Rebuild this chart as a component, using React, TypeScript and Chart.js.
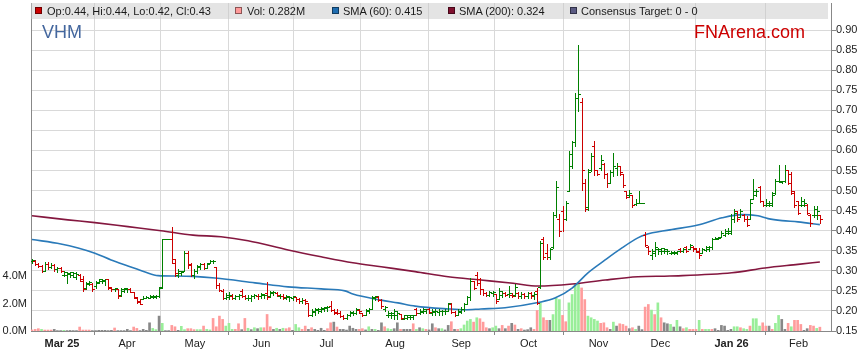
import React, { useEffect, useRef } from "react";
import { Chart, registerables } from "chart.js";

Chart.register(...registerables);

const FONT = "'Liberation Sans', Arial, Helvetica, sans-serif";

// ---- daily OHLC (VHM), one entry per trading day ----
const opens = [
  0.325, 0.325, 0.317, 0.312, 0.30, 0.318, 0.31, 0.314, 0.304, 0.306,
  0.29, 0.29, 0.292, 0.29, 0.285, 0.29, 0.275, 0.258, 0.268, 0.268,
  0.262, 0.27, 0.275, 0.275, 0.279, 0.258, 0.254, 0.254, 0.24, 0.25,
  0.254, 0.254, 0.248, 0.233, 0.224, 0.23, 0.233, 0.233, 0.234, 0.235,
  0.238, 0.26, 0.38, 0.38, 0.38, 0.32, 0.29, 0.295, 0.30, 0.345,
  0.318, 0.29, 0.30, 0.31, 0.318, 0.308, 0.32, 0.325, 0.31, 0.265,
  0.25, 0.233, 0.235, 0.238, 0.233, 0.236, 0.25, 0.238, 0.232, 0.232,
  0.236, 0.238, 0.236, 0.24, 0.245, 0.238, 0.245, 0.245, 0.238, 0.236,
  0.233, 0.235, 0.232, 0.235, 0.229, 0.225, 0.228, 0.22, 0.19, 0.198,
  0.203, 0.20, 0.205, 0.208, 0.212, 0.203, 0.198, 0.196, 0.188, 0.182,
  0.19, 0.195, 0.196, 0.203, 0.195, 0.19, 0.20, 0.205, 0.232, 0.235,
  0.228, 0.205, 0.19, 0.19, 0.19, 0.19, 0.192, 0.18, 0.182, 0.185,
  0.185, 0.205, 0.196, 0.198, 0.20, 0.206, 0.196, 0.198, 0.198, 0.199,
  0.20, 0.20, 0.218, 0.198, 0.19, 0.198, 0.205, 0.218, 0.235, 0.275,
  0.29, 0.28, 0.254, 0.245, 0.24, 0.245, 0.242, 0.23, 0.24, 0.245,
  0.242, 0.24, 0.24, 0.245, 0.238, 0.242, 0.236, 0.244, 0.24, 0.25,
  0.26, 0.38, 0.345, 0.335, 0.36, 0.44, 0.43, 0.45, 0.43, 0.50,
  0.56, 0.62, 0.73, 0.72, 0.52, 0.46, 0.55, 0.61, 0.55, 0.555,
  0.565, 0.54, 0.52, 0.545, 0.555, 0.56, 0.54, 0.498, 0.49, 0.49,
  0.467, 0.47, 0.47, 0.39, 0.36, 0.34, 0.345, 0.355, 0.35, 0.35,
  0.35, 0.345, 0.345, 0.345, 0.355, 0.35, 0.36, 0.355, 0.36, 0.356,
  0.35, 0.345, 0.352, 0.355, 0.36, 0.38, 0.38, 0.385, 0.39, 0.395,
  0.395, 0.43, 0.45, 0.435, 0.44, 0.43, 0.43, 0.48, 0.49, 0.51,
  0.475, 0.465, 0.465, 0.465, 0.495, 0.525, 0.522, 0.525, 0.55, 0.54,
  0.50, 0.475, 0.465, 0.465, 0.465, 0.44, 0.44, 0.44, 0.44,
];

const highs = [
  0.33, 0.326, 0.32, 0.315, 0.321, 0.321, 0.32, 0.316, 0.31, 0.31,
  0.30, 0.296, 0.298, 0.297, 0.297, 0.292, 0.288, 0.272, 0.275, 0.27,
  0.275, 0.279, 0.279, 0.279, 0.279, 0.26, 0.258, 0.254, 0.258, 0.258,
  0.258, 0.256, 0.248, 0.234, 0.23, 0.238, 0.238, 0.24, 0.24, 0.24,
  0.26, 0.38, 0.38, 0.38, 0.41, 0.33, 0.305, 0.30, 0.35, 0.35,
  0.32, 0.304, 0.315, 0.32, 0.32, 0.32, 0.326, 0.326, 0.31, 0.27,
  0.255, 0.245, 0.246, 0.242, 0.24, 0.242, 0.254, 0.24, 0.24, 0.24,
  0.242, 0.242, 0.244, 0.242, 0.271, 0.25, 0.25, 0.248, 0.242, 0.242,
  0.24, 0.238, 0.238, 0.235, 0.233, 0.232, 0.23, 0.221, 0.205, 0.208,
  0.208, 0.21, 0.211, 0.212, 0.225, 0.205, 0.204, 0.20, 0.19, 0.192,
  0.20, 0.20, 0.208, 0.206, 0.195, 0.205, 0.208, 0.2375, 0.2375, 0.236,
  0.229, 0.2125, 0.20, 0.198, 0.204, 0.20, 0.192, 0.19, 0.19, 0.19,
  0.19, 0.208, 0.205, 0.208, 0.206, 0.208, 0.204, 0.204, 0.204, 0.203,
  0.204, 0.221, 0.22, 0.20, 0.204, 0.21, 0.221, 0.2375, 0.283, 0.275,
  0.296, 0.283, 0.254, 0.246, 0.25, 0.25, 0.242, 0.258, 0.25, 0.246,
  0.262, 0.245, 0.267, 0.246, 0.246, 0.244, 0.246, 0.246, 0.246, 0.258,
  0.375, 0.383, 0.367, 0.358, 0.446, 0.525, 0.442, 0.4625, 0.473, 0.598,
  0.623, 0.743, 0.862, 0.731, 0.529, 0.553, 0.593, 0.624, 0.552, 0.589,
  0.568, 0.543, 0.552, 0.593, 0.568, 0.56, 0.54, 0.498, 0.502, 0.49,
  0.479, 0.498, 0.47, 0.396, 0.363, 0.354, 0.371, 0.358, 0.358, 0.358,
  0.354, 0.35, 0.35, 0.35, 0.358, 0.358, 0.3625, 0.367, 0.3625, 0.358,
  0.358, 0.358, 0.3625, 0.3625, 0.381, 0.383, 0.383, 0.40, 0.404, 0.406,
  0.442, 0.454, 0.45, 0.454, 0.442, 0.4375, 0.479, 0.529, 0.504, 0.5125,
  0.475, 0.479, 0.475, 0.496, 0.529, 0.5625, 0.525, 0.5625, 0.55, 0.546,
  0.50, 0.475, 0.483, 0.479, 0.4667, 0.442, 0.4625, 0.4625, 0.44,
];

const lows = [
  0.32, 0.315, 0.31, 0.296, 0.30, 0.305, 0.306, 0.30, 0.298, 0.296,
  0.286, 0.27, 0.285, 0.284, 0.279, 0.275, 0.25, 0.255, 0.265, 0.25,
  0.258, 0.27, 0.27, 0.265, 0.254, 0.25, 0.25, 0.233, 0.238, 0.246,
  0.248, 0.246, 0.232, 0.22, 0.218, 0.23, 0.232, 0.232, 0.232, 0.232,
  0.235, 0.258, 0.378, 0.378, 0.32, 0.287, 0.285, 0.29, 0.30, 0.308,
  0.288, 0.283, 0.295, 0.304, 0.305, 0.306, 0.32, 0.32, 0.258, 0.25,
  0.229, 0.23, 0.23, 0.229, 0.23, 0.23, 0.235, 0.23, 0.228, 0.225,
  0.232, 0.23, 0.232, 0.233, 0.23, 0.235, 0.24, 0.236, 0.232, 0.23,
  0.229, 0.225, 0.228, 0.225, 0.221, 0.22, 0.217, 0.1875, 0.1875, 0.19,
  0.196, 0.198, 0.20, 0.20, 0.20, 0.193, 0.192, 0.185, 0.179, 0.179,
  0.1875, 0.19, 0.192, 0.195, 0.1875, 0.19, 0.196, 0.205, 0.228, 0.225,
  0.208, 0.20, 0.185, 0.183, 0.18, 0.179, 0.18, 0.179, 0.18, 0.18,
  0.179, 0.19, 0.192, 0.195, 0.196, 0.196, 0.19, 0.19, 0.19, 0.19,
  0.192, 0.20, 0.196, 0.1875, 0.19, 0.196, 0.20, 0.217, 0.228, 0.254,
  0.265, 0.242, 0.24, 0.2375, 0.2375, 0.238, 0.221, 0.229, 0.235, 0.238,
  0.235, 0.235, 0.2375, 0.233, 0.232, 0.233, 0.233, 0.232, 0.229, 0.217,
  0.258, 0.329, 0.329, 0.329, 0.358, 0.433, 0.3875, 0.40, 0.427, 0.498,
  0.556, 0.61, 0.697, 0.502, 0.448, 0.452, 0.548, 0.539, 0.539, 0.552,
  0.531, 0.51, 0.518, 0.535, 0.539, 0.539, 0.51, 0.481, 0.485, 0.46,
  0.464, 0.469, 0.469, 0.363, 0.342, 0.329, 0.3375, 0.342, 0.342, 0.345,
  0.342, 0.342, 0.342, 0.342, 0.346, 0.346, 0.346, 0.354, 0.35, 0.346,
  0.333, 0.345, 0.35, 0.35, 0.354, 0.379, 0.379, 0.383, 0.3875, 0.392,
  0.392, 0.421, 0.425, 0.433, 0.425, 0.4125, 0.429, 0.479, 0.4875, 0.471,
  0.4625, 0.4625, 0.4625, 0.4625, 0.492, 0.521, 0.52, 0.521, 0.517, 0.492,
  0.458, 0.442, 0.4625, 0.4625, 0.442, 0.4125, 0.433, 0.429, 0.42,
];

const closes = [
  0.328, 0.317, 0.312, 0.30, 0.318, 0.31, 0.315, 0.304, 0.308, 0.30,
  0.296, 0.294, 0.296, 0.295, 0.293, 0.28, 0.255, 0.27, 0.272, 0.255,
  0.272, 0.279, 0.276, 0.279, 0.26, 0.254, 0.256, 0.238, 0.254, 0.256,
  0.255, 0.248, 0.235, 0.222, 0.218, 0.233, 0.235, 0.237, 0.238, 0.238,
  0.258, 0.38, 0.38, 0.38, 0.33, 0.295, 0.30, 0.297, 0.345, 0.315,
  0.29, 0.30, 0.312, 0.318, 0.308, 0.318, 0.325, 0.325, 0.265, 0.252,
  0.232, 0.24, 0.24, 0.232, 0.238, 0.24, 0.238, 0.232, 0.232, 0.238,
  0.24, 0.236, 0.242, 0.24, 0.235, 0.246, 0.248, 0.24, 0.238, 0.234,
  0.238, 0.235, 0.236, 0.229, 0.225, 0.228, 0.225, 0.19, 0.20, 0.205,
  0.205, 0.208, 0.21, 0.21, 0.203, 0.196, 0.196, 0.188, 0.182, 0.19,
  0.198, 0.196, 0.205, 0.20, 0.19, 0.203, 0.205, 0.235, 0.236, 0.228,
  0.212, 0.21, 0.195, 0.196, 0.20, 0.195, 0.182, 0.19, 0.19, 0.19,
  0.19, 0.196, 0.20, 0.205, 0.204, 0.198, 0.20, 0.20, 0.201, 0.20,
  0.20, 0.22, 0.198, 0.19, 0.20, 0.205, 0.218, 0.235, 0.275, 0.258,
  0.27, 0.255, 0.245, 0.24, 0.248, 0.248, 0.225, 0.25, 0.245, 0.24,
  0.245, 0.238, 0.26, 0.238, 0.242, 0.236, 0.244, 0.238, 0.242, 0.22,
  0.37, 0.335, 0.335, 0.355, 0.44, 0.51, 0.40, 0.43, 0.47, 0.59,
  0.62, 0.73, 0.74, 0.55, 0.455, 0.545, 0.585, 0.55, 0.54, 0.575,
  0.54, 0.52, 0.545, 0.56, 0.56, 0.545, 0.515, 0.485, 0.495, 0.465,
  0.47, 0.47, 0.47, 0.365, 0.35, 0.35, 0.36, 0.355, 0.356, 0.355,
  0.35, 0.348, 0.348, 0.35, 0.35, 0.355, 0.35, 0.365, 0.354, 0.348,
  0.34, 0.355, 0.36, 0.36, 0.378, 0.381, 0.381, 0.395, 0.40, 0.40,
  0.43, 0.445, 0.43, 0.45, 0.43, 0.415, 0.47, 0.50, 0.50, 0.475,
  0.465, 0.47, 0.47, 0.49, 0.525, 0.525, 0.524, 0.55, 0.52, 0.495,
  0.465, 0.445, 0.475, 0.47, 0.445, 0.42, 0.455, 0.45, 0.43,
];

// ---- daily volume, millions ----
const volumes = [
  0.08, 0.12, 0.17, 0.12, 0.07, 0.07, 0.07, 0.12, 0.03, 0.03,
  0.05, 0.03, 0.04, 0.03, 0.03, 0.29, 0.07, 0.07, 0.07, 0.03,
  0.03, 0.05, 0.05, 0.05, 0.03, 0.05, 0.22, 0.03, 0.03, 0.03,
  0.12, 0.03, 0.29, 0.19, 0.03, 0.12, 0.05, 0.6, 0.19, 0.1,
  1.09, 0.56, 0.03, 0.03, 0.41, 0.31, 0.05, 0.34, 0.1, 0.17,
  0.17, 0.1, 0.1, 0.1, 0.36, 0.12, 0.08, 0.92, 0.31, 1.09,
  0.85, 0.36, 0.56, 0.12, 0.12, 0.53, 0.1, 0.92, 0.2, 0.1,
  0.24, 0.17, 0.24, 0.24, 1.21, 0.31, 0.12, 0.2, 0.12, 0.2,
  0.17, 0.24, 0.05, 0.48, 0.24, 0.12, 0.36, 0.12, 0.24, 0.12,
  0.05, 0.2, 0.05, 0.17, 0.6, 0.65, 0.29, 0.12, 0.12, 0.07,
  0.36, 0.2, 0.12, 0.12, 0.17, 0.08, 0.31, 0.12, 0.12, 0.05,
  0.6, 0.31, 0.17, 0.12, 0.17, 0.6, 0.12, 0.12, 0.12, 0.12,
  0.53, 0.12, 0.24, 0.17, 0.12, 0.08, 0.53, 0.24, 0.17, 0.17,
  0.08, 0.41, 0.68, 0.12, 0.12, 0.17, 0.44, 0.73, 0.85, 0.65,
  0.97, 0.9, 0.65, 0.24, 0.17, 0.24, 0.36, 0.17, 0.41, 0.17,
  0.36, 0.56, 0.44, 0.12, 0.17, 0.07, 0.1, 0.24, 0.12, 1.5,
  2.06, 0.97, 0.78, 0.78, 1.2, 2.4, 2.3, 1.14, 0.68, 2.06,
  2.67, 3.47, 3.5, 3.15, 2.3, 1.09, 0.97, 0.85, 0.73, 0.56,
  0.6, 0.24, 0.12, 0.65, 0.36, 0.53, 0.48, 0.36, 0.17, 0.24,
  0.12, 0.36, 0.1, 1.75, 1.94, 1.53, 1.2, 2.06, 0.97, 0.6,
  0.53, 0.48, 0.29, 0.78, 0.31, 0.17, 0.24, 0.12, 0.12, 0.12,
  0.78, 0.12, 0.12, 0.12, 0.12, 0.17, 0.05, 0.41, 0.36, 0.05,
  0.12, 0.31, 0.31, 0.24, 0.17, 0.12, 0.36, 0.9, 0.9, 0.36,
  0.6, 0.36, 0.36, 0.12, 0.56, 1.14, 0.85, 0.12, 0.56, 0.31,
  0.78, 0.78, 0.48, 0.05, 0.17, 0.41, 0.36, 0.19, 0.28,
];

// g = up day, r = down day, n = unchanged
const volumeDirection =
  "rrrgrrrnnn" + "gnnnnrrrrn" + "nnnnnnrnnn" + "nnrrnnnngg" + "ngnnrrnggr" +
  "rrggrggrrr" + "rgggrrnrgn" + "gngrrrngng" + "rrnggrrnrn" + "nnnrrnrnnn" +
  "nnnrrngngn" + "nrggnnrnnn" + "rgngrnnrng" + "nnrnrggggr" + "grrrnggnrn" +
  "rnrnrnnnrr" + "grrngggrrg" + "gggrrggggr" + "rrngnrrrnr" + "gnnrrgrgrn" +
  "ngngnrgrrr" + "grggrnnnnn" + "nggrggrggg" + "rrnrggnnrg" + "rrrnnrrgr";

// ---- moving averages (trading-day index, price) ----
const sma60Idx = [0, 9.1, 14.5, 19.8, 24.9, 30.2, 35.6, 39.7, 45, 50.7, 57.6, 70.2, 80.6, 91, 98.5, 101, 109.9, 115.2, 120.6, 131, 136.3, 141.3, 148.9, 159.3, 164.6, 170, 175, 180.4, 185.7, 190.7, 193, 200.8, 209.6, 217.2, 223.5, 228.5, 231.7, 236.1, 241.1, 248];
const sma60Val = [0.378, 0.367, 0.357, 0.344, 0.327, 0.312, 0.297, 0.288, 0.287, 0.286, 0.282, 0.27, 0.26, 0.255, 0.25, 0.242, 0.227, 0.22, 0.212, 0.205, 0.203, 0.205, 0.208, 0.221, 0.232, 0.257, 0.295, 0.327, 0.357, 0.382, 0.39, 0.402, 0.414, 0.432, 0.44, 0.437, 0.43, 0.425, 0.422, 0.415];

const sma200Idx = [0, 11.3, 19.8, 30.2, 40.6, 50.7, 59.5, 68, 80.6, 91, 101, 109.9, 120.6, 131, 141.3, 151.4, 159.3, 170, 180.4, 190.7, 200.8, 220.3, 230.7, 241.1, 248];
const sma200Val = [0.437, 0.427, 0.42, 0.41, 0.40, 0.389, 0.385, 0.375, 0.352, 0.335, 0.32, 0.31, 0.298, 0.285, 0.277, 0.269, 0.262, 0.267, 0.277, 0.285, 0.287, 0.295, 0.307, 0.316, 0.322];

// ---- axis ticks ----
const monthTickIdx = [9.44, 29.9, 51.3, 72.2, 92.7, 114.3, 135.1, 156.3, 178.3, 197.8, 220.2, 241.3];
const monthLabels = ["Mar 25", "Apr", "May", "Jun", "Jul", "Aug", "Sep", "Oct", "Nov", "Dec", "Jan 26", "Feb"];
const boldMonthLabels = ["Mar 25", "Jan 26"];
const priceTicks = [0.15, 0.2, 0.25, 0.3, 0.35, 0.4, 0.45, 0.5, 0.55, 0.6, 0.65, 0.7, 0.75, 0.8, 0.85, 0.9];
const volumeTicks = [0, 2, 4];

const legendItems = [
  { text: "Op:0.44, Hi:0.44, Lo:0.42, Cl:0.43", color: "#cc0000", sq: 35, tx: 47 },
  { text: "Vol: 0.282M", color: "#ff9999", sq: 235, tx: 247 },
  { text: "SMA (60): 0.415", color: "#1f6db0", sq: 332, tx: 343 },
  { text: "SMA (200): 0.324", color: "#80102e", sq: 448, tx: 459 },
  { text: "Consensus Target: 0 - 0", color: "#5a5a82", sq: 570, tx: 581 },
];

const PRICE_MIN = 0.15;
const PRICE_MAX = 0.9673;
const VOL_MAX = 24;
const GREEN = "#008000";
const RED = "#cc0000";

export default function App() {
  const canvasRef = useRef<HTMLCanvasElement | null>(null);

  useEffect(() => {
    const canvas = canvasRef.current;
    if (!canvas) return;

    const ohlcPlugin = {
      id: "ohlcBars",
      afterDatasetsDraw(chart: any) {
        const { ctx, chartArea, scales } = chart;
        const xs = scales.x;
        const ys = scales.y;
        ctx.save();
        ctx.beginPath();
        ctx.rect(chartArea.left, chartArea.top, chartArea.right - chartArea.left, chartArea.bottom - chartArea.top);
        ctx.clip();
        for (let i = 0; i < closes.length; i++) {
          ctx.fillStyle = closes[i] >= opens[i] ? GREEN : RED;
          const x = Math.round(xs.getPixelForValue(i));
          const yH = Math.round(ys.getPixelForValue(highs[i]));
          const yL = Math.round(ys.getPixelForValue(lows[i]));
          const yO = Math.round(ys.getPixelForValue(opens[i]));
          const yC = Math.round(ys.getPixelForValue(closes[i]));
          ctx.fillRect(x, yH, 1, Math.max(1, yL - yH + 1));
          ctx.fillRect(x - 2, yO, 2, 1);
          ctx.fillRect(x + 1, yC, 2, 1);
        }
        ctx.restore();
      },
    };

    const tickFont = { family: FONT, size: 11 };

    const chart = new Chart(canvas, {
      type: "bar",
      data: {
        datasets: [
          {
            type: "bar",
            label: "Vol",
            xAxisID: "x",
            yAxisID: "yv",
            data: volumes.map((v, i) => ({ x: i, y: v })),
            backgroundColor: volumeDirection
              .split("")
              .map((c) => (c === "g" ? "#99ee99" : c === "r" ? "#ff9c9c" : "#888888")),
            barThickness: 2,
            borderWidth: 0,
            order: 3,
          } as any,
          {
            type: "line",
            label: "SMA (200)",
            xAxisID: "x",
            yAxisID: "y",
            data: sma200Idx.map((x, k) => ({ x, y: sma200Val[k] })),
            borderColor: "#84173f",
            borderWidth: 1.6,
            pointRadius: 0,
            cubicInterpolationMode: "monotone",
            fill: false,
            order: 2,
          } as any,
          {
            type: "line",
            label: "SMA (60)",
            xAxisID: "x",
            yAxisID: "y",
            data: sma60Idx.map((x, k) => ({ x, y: sma60Val[k] })),
            borderColor: "#2a7ab9",
            borderWidth: 1.6,
            pointRadius: 0,
            cubicInterpolationMode: "monotone",
            fill: false,
            order: 1,
          } as any,
        ],
      },
      options: {
        animation: false,
        responsive: false,
        maintainAspectRatio: false,
        devicePixelRatio: 1,
        events: [],
        layout: { padding: { top: 3, left: 0, right: 0, bottom: 0 } },
        plugins: { legend: { display: false }, tooltip: { enabled: false } },
        scales: {
          x: {
            type: "linear",
            position: "bottom",
            min: -0.315,
            max: 251.5,
            offset: false,
            afterBuildTicks: (s: any) => {
              s.ticks = monthTickIdx.map((v) => ({ value: v }));
            },
            afterFit: (s: any) => {
              s.height = 32;
              s.paddingLeft = 0;
              s.paddingRight = 0;
            },
            ticks: {
              autoSkip: false,
              maxRotation: 0,
              minRotation: 0,
              padding: 2,
              color: "#222",
              font: (c: any) => ({
                family: FONT,
                size: 11,
                weight: boldMonthLabels.includes(monthLabels[c.index]) ? "bold" : "normal",
              }),
              callback: (_v: any, i: number) => monthLabels[i],
            },
            grid: { color: "#d9d9d9", tickColor: "#888", tickLength: 4, drawTicks: true },
            border: { display: true, color: "#888" },
          },
          y: {
            type: "linear",
            position: "right",
            min: PRICE_MIN,
            max: PRICE_MAX,
            afterBuildTicks: (s: any) => {
              s.ticks = priceTicks.map((v) => ({ value: v }));
            },
            afterFit: (s: any) => {
              s.width = 28;
              s.paddingTop = 0;
              s.paddingBottom = 0;
            },
            ticks: {
              padding: 0,
              color: "#222",
              font: tickFont,
              callback: (v: any) => Number(v).toFixed(2),
            },
            grid: { color: "#d9d9d9", tickColor: "#888", tickLength: 5, drawTicks: true },
            border: { display: true, color: "#888" },
          },
          yv: {
            type: "linear",
            position: "left",
            min: 0,
            max: VOL_MAX,
            afterBuildTicks: (s: any) => {
              s.ticks = volumeTicks.map((v) => ({ value: v }));
            },
            afterFit: (s: any) => {
              s.width = 31;
              s.paddingTop = 0;
              s.paddingBottom = 0;
            },
            ticks: {
              padding: 4,
              color: "#222",
              font: tickFont,
              callback: (v: any) => Number(v).toFixed(1) + "M",
            },
            grid: { display: false, drawOnChartArea: false, drawTicks: false },
            border: { display: true, color: "#888" },
          },
        },
      } as any,
      plugins: [ohlcPlugin],
    });

    return () => chart.destroy();
  }, []);

  return (
    <div
      style={{
        position: "absolute",
        left: 0,
        top: 0,
        width: 859,
        height: 363,
        background: "#fff",
        overflow: "hidden",
        fontFamily: FONT,
      }}
    >
      <canvas ref={canvasRef} width={859} height={363} style={{ width: 859, height: 363, display: "block" }} />
      <div
        style={{
          position: "absolute",
          left: 31,
          top: 3,
          width: 797,
          height: 16,
          background: "rgba(200,200,200,0.49)",
        }}
      />
      {legendItems.map((it) => (
        <React.Fragment key={it.text}>
          <div
            style={{
              position: "absolute",
              left: it.sq,
              top: 7,
              width: 7,
              height: 7,
              boxSizing: "border-box",
              background: it.color,
              border: "1px solid rgba(0,0,0,0.45)",
            }}
          />
          <div
            style={{
              position: "absolute",
              left: it.tx,
              top: 3,
              height: 16,
              lineHeight: "16px",
              fontSize: 11,
              color: "#1a1a1a",
              whiteSpace: "nowrap",
            }}
          >
            {it.text}
          </div>
        </React.Fragment>
      ))}
      <div
        style={{
          position: "absolute",
          left: 42,
          top: 23,
          fontSize: 18,
          lineHeight: "18px",
          color: "#44679e",
          whiteSpace: "nowrap",
        }}
      >
        VHM
      </div>
      <div
        style={{
          position: "absolute",
          left: 694,
          top: 23,
          fontSize: 18,
          lineHeight: "18px",
          color: "#cc0000",
          whiteSpace: "nowrap",
        }}
      >
        FNArena.com
      </div>
    </div>
  );
}
